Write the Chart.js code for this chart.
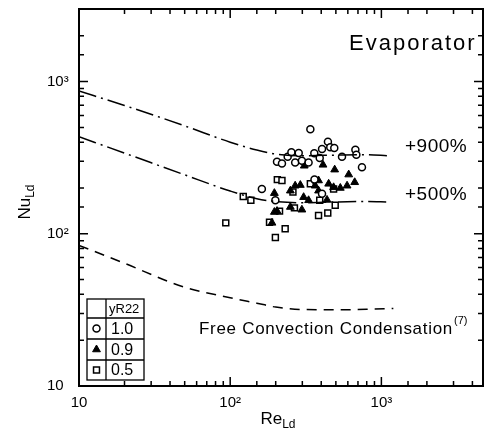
<!DOCTYPE html>
<html>
<head>
<meta charset="utf-8">
<script src="https://cdn.jsdelivr.net/npm/chart.js@4"></script>
<style>
  html, body { margin: 0; padding: 0; background: #fff; }
  #wrap { width: 492px; height: 439px; }
</style>
</head>
<body>
<div id="wrap"><canvas id="chart" width="492" height="439"></canvas></div>
<script>
// Nu vs Re, evaporator
const curveX = [10, 20, 50, 100, 150, 200, 300, 500, 800, 1100]
const plus900 = [867, 697, 512, 400, 355, 334, 326, 329, 331, 326]
const plus500 = [434, 339, 244, 191, 170, 163, 160, 162, 163, 162]
const freeConvX = [10, 20, 50, 100, 150, 200, 300, 500, 800, 1200]
const freeConvY = [84, 64, 44.5, 38, 35, 33, 31.8, 31.7, 31.9, 32.3]

const circleX = [339, 204, 220, 240, 254, 284, 269, 298, 330, 360, 391, 405, 443, 459, 488, 549, 673, 683, 744, 162, 199, 361, 405]
const circleY = [487, 298, 290, 321, 343, 339, 294, 302, 294, 338, 315, 361, 403, 370, 366, 321, 357, 331, 274, 197, 166, 227, 183]
const triX = [196, 196, 189, 309, 411, 491, 608, 666, 593, 250, 269, 291, 306, 330, 365, 384, 437, 448, 483, 535, 298, 250, 204, 384]
const triY = [185, 139, 118, 280, 284, 264, 245, 218, 207, 192, 207, 209, 174, 166, 207, 192, 167, 213, 202, 200, 144, 150, 141, 224]
const squareX = [93.5, 122, 137, 205, 220, 182, 199, 231, 212, 266, 260, 339, 384, 442, 495, 391, 483]
const squareY = [118, 176, 166, 227, 224, 119, 94.5, 108, 141, 148, 188, 213, 132, 137, 154, 166, 197]

const legendRows = ['1.0', '0.9', '0.5']
const FONT = '"Liberation Sans", Arial, sans-serif'

function pts(xs, ys) {
  return xs.map((x, i) => ({ x: x, y: ys[i] }))
}

function isDecade(v) {
  const l = Math.log10(v)
  return Math.abs(l - Math.round(l)) < 1e-6
}

function decadeLabel(v) {
  if (!isDecade(v)) return ''
  const p = Math.round(Math.log10(v))
  if (p === 1) return '10'
  if (p === 2) return '10\u00b2'
  if (p === 3) return '10\u00b3'
  return ''
}

// inward ticks on all four sides, plus the frame
const frame = {
  id: 'frame',
  afterDraw(chart) {
    const ctx = chart.ctx
    const a = chart.chartArea
    const xs = chart.scales.x
    const ys = chart.scales.y
    ctx.save()
    ctx.strokeStyle = '#000'
    ctx.lineWidth = 2
    ctx.strokeRect(a.left, a.top, a.right - a.left, a.bottom - a.top)
    ctx.lineWidth = 1.5
    xs.ticks.forEach(t => {
      const px = xs.getPixelForValue(t.value)
      if (px <= a.left + 1 || px >= a.right - 1) return
      const len = isDecade(t.value) ? 9 : 5
      ctx.beginPath()
      ctx.moveTo(px, a.bottom); ctx.lineTo(px, a.bottom - len)
      ctx.moveTo(px, a.top); ctx.lineTo(px, a.top + len)
      ctx.stroke()
    })
    ys.ticks.forEach(t => {
      const py = ys.getPixelForValue(t.value)
      if (py >= a.bottom - 1 || py <= a.top + 1) return
      const len = isDecade(t.value) ? 9 : 5
      ctx.beginPath()
      ctx.moveTo(a.left, py); ctx.lineTo(a.left + len, py)
      ctx.moveTo(a.right, py); ctx.lineTo(a.right - len, py)
      ctx.stroke()
    })
    ctx.restore()
  }
}

const annotations = {
  id: 'annotations',
  afterDraw(chart) {
    const ctx = chart.ctx
    ctx.save()
    ctx.fillStyle = '#000'
    ctx.textBaseline = 'middle'

    ctx.font = '22px ' + FONT
    ctx.letterSpacing = '2px'
    ctx.textAlign = 'left'
    ctx.fillText('Evaporator', 349, 44)

    ctx.font = '19px ' + FONT
    ctx.letterSpacing = '0.5px'
    ctx.fillText('+900%', 405, 147)
    ctx.fillText('+500%', 405, 195)

    ctx.font = '17px ' + FONT
    ctx.letterSpacing = '0.7px'
    const s = 'Free Convection Condensation'
    ctx.fillText(s, 199, 329)
    const w = ctx.measureText(s).width
    ctx.font = '11px ' + FONT
    ctx.letterSpacing = '0px'
    ctx.fillText('(7)', 199 + w + 1, 321)

    // axis titles with subscripts
    ctx.font = '17px ' + FONT
    ctx.textAlign = 'left'
    const re = 'Re'
    const rw = ctx.measureText(re).width
    ctx.font = '12px ' + FONT
    const sw = ctx.measureText('Ld').width
    let x0 = 278 - (rw + sw) / 2
    ctx.font = '17px ' + FONT
    ctx.fillText(re, x0, 419)
    ctx.font = '12px ' + FONT
    ctx.fillText('Ld', x0 + rw, 425)

    ctx.translate(25, 202)
    ctx.rotate(-Math.PI / 2)
    ctx.font = '17px ' + FONT
    const nw = ctx.measureText('Nu').width
    x0 = -(nw + sw) / 2
    ctx.fillText('Nu', x0, 0)
    ctx.font = '12px ' + FONT
    ctx.fillText('Ld', x0 + nw, 6)
    ctx.restore()

    // legend table
    const L = 87, D = 106, R = 144
    const rows = [299, 318, 339, 360, 380]
    ctx.save()
    ctx.fillStyle = '#fff'
    ctx.fillRect(L, rows[0], R - L, rows[4] - rows[0])
    ctx.strokeStyle = '#000'
    ctx.lineWidth = 1.3
    ctx.strokeRect(L, rows[0], R - L, rows[4] - rows[0])
    ctx.beginPath()
    ctx.moveTo(D, rows[0]); ctx.lineTo(D, rows[4])
    for (let i = 1; i < 4; i++) {
      ctx.moveTo(L, rows[i]); ctx.lineTo(R, rows[i])
    }
    ctx.stroke()
    ctx.fillStyle = '#000'
    ctx.textBaseline = 'middle'
    ctx.textAlign = 'left'
    ctx.font = '13px ' + FONT
    ctx.fillText('yR22', D + 3, (rows[0] + rows[1]) / 2 + 1)
    ctx.font = '16px ' + FONT
    const styles = chart.data.datasets.slice(3)
    legendRows.forEach((lab, i) => {
      const cy = (rows[i + 1] + rows[i + 2]) / 2
      ctx.fillText(lab, D + 5, cy + 1)
      const ds = styles[i]
      ctx.save()
      ctx.fillStyle = ds.backgroundColor
      ctx.strokeStyle = ds.borderColor
      ctx.lineWidth = ds.borderWidth
      Chart.helpers.drawPoint(ctx, { pointStyle: ds.pointStyle, radius: ds.pointRadius, borderWidth: ds.borderWidth, rotation: 0 }, (L + D) / 2, cy)
      ctx.restore()
    })
    ctx.restore()
  }
}

const ctx = document.getElementById('chart').getContext('2d')
new Chart(ctx, {
  type: 'scatter',
  data: {
    datasets: [
      {
        label: '+900%',
        data: pts(curveX, plus900),
        showLine: true,
        borderColor: '#000',
        borderWidth: 1.5,
        borderDash: [18, 5, 2, 5],
        pointRadius: 0,
        cubicInterpolationMode: 'monotone'
      },
      {
        label: '+500%',
        data: pts(curveX, plus500),
        showLine: true,
        borderColor: '#000',
        borderWidth: 1.5,
        borderDash: [18, 5, 2, 5],
        pointRadius: 0,
        cubicInterpolationMode: 'monotone'
      },
      {
        label: 'Free Convection Condensation',
        data: pts(freeConvX, freeConvY),
        showLine: true,
        borderColor: '#000',
        borderWidth: 1.5,
        borderDash: [10, 7],
        pointRadius: 0,
        cubicInterpolationMode: 'monotone'
      },
      {
        label: '1.0',
        data: pts(circleX, circleY),
        pointStyle: 'circle',
        pointRadius: 3.5,
        borderWidth: 1.5,
        borderColor: '#000',
        backgroundColor: '#fff'
      },
      {
        label: '0.9',
        data: pts(triX, triY),
        pointStyle: 'triangle',
        pointRadius: 4.5,
        borderWidth: 1,
        borderColor: '#000',
        backgroundColor: '#000'
      },
      {
        label: '0.5',
        data: pts(squareX, squareY),
        pointStyle: 'rect',
        pointRadius: 4.2,
        borderWidth: 1.5,
        borderColor: '#000',
        backgroundColor: '#fff'
      }
    ]
  },
  options: {
    responsive: false,
    animation: false,
    layout: { padding: { left: 47, top: 9, right: 9, bottom: 0 } },
    scales: {
      x: {
        type: 'logarithmic',
        min: 10,
        max: 4700,
        grid: { display: false, drawTicks: false },
        border: { display: false },
        afterFit(scale) { scale.height = 53 },
        ticks: {
          autoSkip: false,
          maxRotation: 0,
          padding: 8,
          color: '#000',
          font: { family: FONT, size: 15 },
          callback: v => decadeLabel(v)
        }
      },
      y: {
        type: 'logarithmic',
        min: 10,
        max: 3000,
        grid: { display: false, drawTicks: false },
        border: { display: false },
        afterFit(scale) { scale.width = 32 },
        ticks: {
          autoSkip: false,
          crossAlign: 'far',
          padding: 0,
          color: '#000',
          font: { family: FONT, size: 15 },
          callback: v => decadeLabel(v)
        }
      }
    },
    plugins: {
      legend: { display: false },
      tooltip: { enabled: false }
    }
  },
  plugins: [frame, annotations]
})
</script>
</body>
</html>
